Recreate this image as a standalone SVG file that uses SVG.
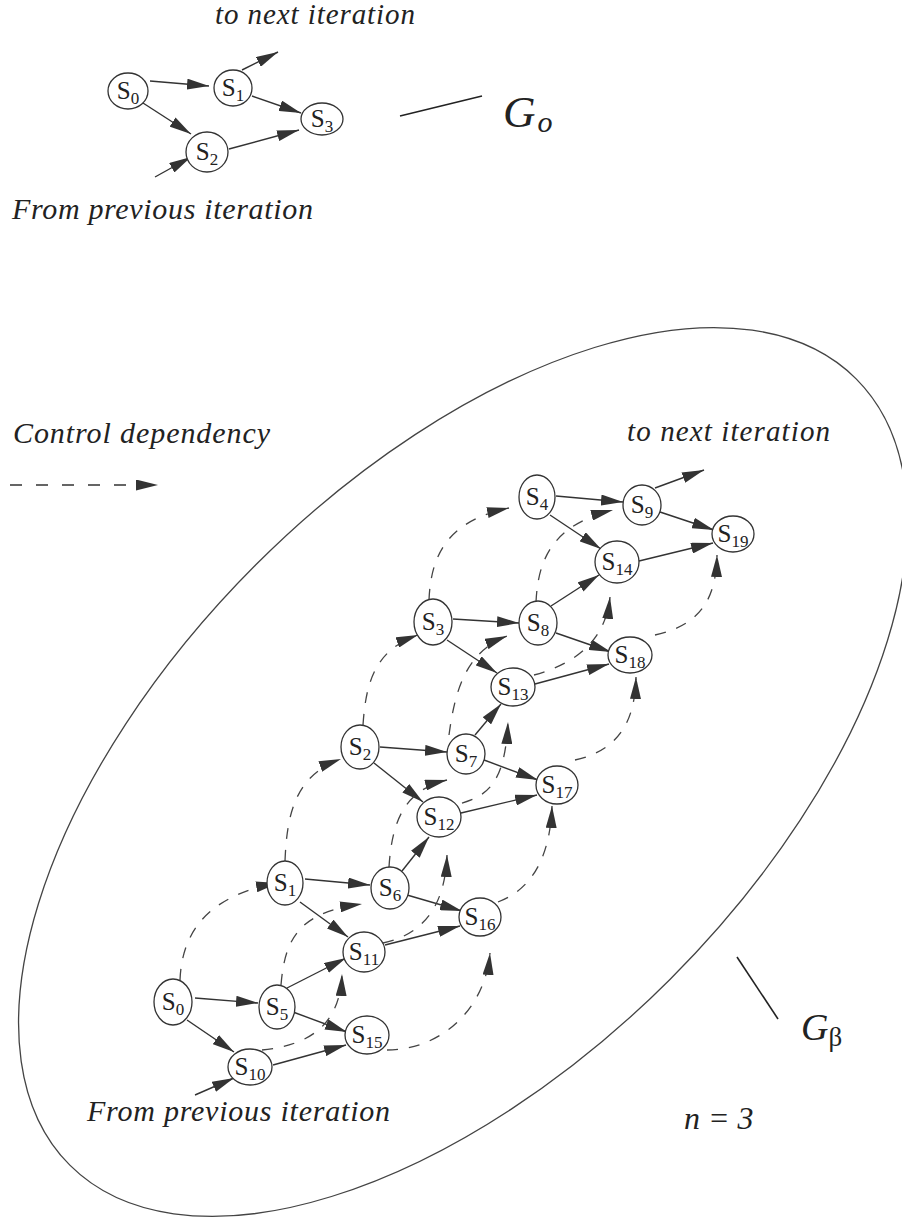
<svg xmlns="http://www.w3.org/2000/svg" width="902" height="1221" viewBox="0 0 902 1221">
  <style>
    .node { fill: #ffffff; stroke: #333333; stroke-width: 1.3; }
    .lbl { font-family: "Liberation Serif", "Times New Roman", serif; font-size: 25px; fill: #222222; text-anchor: middle; }
    .sub { font-size: 17px; }
    .it { font-family: "Liberation Serif", "Times New Roman", serif; font-style: italic; fill: #222222; }
    .edge { fill: none; stroke: #333333; stroke-width: 1.4; marker-end: url(#ah); }
    .ctrl { fill: none; stroke: #444444; stroke-width: 1.3; stroke-dasharray: 11 11; marker-end: url(#ah); }
    .hull { fill: none; stroke: #444444; stroke-width: 1.3; }
    .tick { stroke: #222222; stroke-width: 1.6; }
  </style>
  <defs>
    <marker id="ah" viewBox="0 0 22 11" refX="22" refY="5.5" markerWidth="22" markerHeight="11" markerUnits="userSpaceOnUse" orient="auto">
      <path d="M0,0 L22,5.5 L0,11 Z" fill="#333333"/>
    </marker>
  </defs>
  <rect width="902" height="1221" fill="#ffffff"/>

  <!-- ===== G_o : one loop iteration ===== -->
  <text class="it" x="215" y="24" font-size="29" textLength="200" lengthAdjust="spacing">to next iteration</text>
  <text class="it" x="12" y="219" font-size="30" textLength="301" lengthAdjust="spacing">From previous iteration</text>
  <line class="tick" x1="400" y1="116" x2="482" y2="96"/>
  <text class="it" x="503" y="127" font-size="45">G<tspan font-size="30" dx="2" dy="5">o</tspan></text>

  <g id="go-edges">
    <line class="edge" x1="150" y1="81" x2="209" y2="86"/>
    <line class="edge" x1="143" y1="103" x2="191" y2="134"/>
    <line class="edge" x1="242" y1="70" x2="278" y2="52"/>
    <line class="edge" x1="252" y1="96" x2="301" y2="113"/>
    <line class="edge" x1="229" y1="149" x2="299" y2="130"/>
    <line class="edge" x1="155" y1="177" x2="191" y2="157"/>
  </g>

  <g id="go-s0"><ellipse class="node" cx="128" cy="91" rx="20" ry="18"/><text class="lbl" x="128" y="99">S<tspan class="sub" dy="5">0</tspan></text></g>
  <g id="go-s1"><ellipse class="node" cx="233" cy="88" rx="19" ry="18"/><text class="lbl" x="233" y="96">S<tspan class="sub" dy="5">1</tspan></text></g>
  <g id="go-s2"><ellipse class="node" cx="207" cy="152" rx="21" ry="20"/><text class="lbl" x="207" y="160">S<tspan class="sub" dy="5">2</tspan></text></g>
  <g id="go-s3"><ellipse class="node" cx="322" cy="119" rx="21" ry="16"/><text class="lbl" x="322" y="127">S<tspan class="sub" dy="5">3</tspan></text></g>

  <!-- ===== G_beta : unrolled loop, n = 3 ===== -->
  <ellipse class="hull" cx="463" cy="772" rx="556" ry="293" transform="rotate(-45 463 772)"/>

  <text class="it" x="13" y="443" font-size="30" textLength="257" lengthAdjust="spacing">Control dependency</text>
  <line class="ctrl" x1="10" y1="485" x2="158" y2="485" style="stroke-dasharray: 12 14; stroke: #333333; stroke-width: 1.6"/>
  <text class="it" x="627" y="441" font-size="29" textLength="203" lengthAdjust="spacing">to next iteration</text>
  <text class="it" x="87" y="1121" font-size="30" textLength="303" lengthAdjust="spacing">From previous iteration</text>
  <text class="it" x="684" y="1129" font-size="32">n = 3</text>
  <line class="tick" x1="737" y1="957" x2="778" y2="1019"/>
  <text class="it" x="801" y="1040" font-size="38">G<tspan font-style="normal" font-size="27" dy="6">β</tspan></text>

  <g id="gb-edges">
    <!-- data dependencies -->
    <line class="edge" x1="195" y1="998" x2="258" y2="1003"/>
    <line class="edge" x1="187" y1="1020" x2="234" y2="1052"/>
    <line class="edge" x1="195" y1="1095" x2="234" y2="1078"/>
    <line class="edge" x1="273" y1="1065" x2="346" y2="1045"/>
    <line class="edge" x1="293" y1="1012" x2="347" y2="1032"/>
    <line class="edge" x1="287" y1="988" x2="346" y2="958"/>
    <line class="edge" x1="305" y1="879" x2="370" y2="885"/>
    <line class="edge" x1="300" y1="902" x2="348" y2="937"/>
    <line class="edge" x1="385" y1="945" x2="460" y2="926"/>
    <line class="edge" x1="407" y1="895" x2="462" y2="911"/>
    <line class="edge" x1="402" y1="871" x2="429" y2="837"/>
    <line class="edge" x1="380" y1="747" x2="447" y2="752"/>
    <line class="edge" x1="374" y1="763" x2="423" y2="802"/>
    <line class="edge" x1="461" y1="813" x2="537" y2="795"/>
    <line class="edge" x1="484" y1="760" x2="538" y2="780"/>
    <line class="edge" x1="475" y1="735" x2="501" y2="704"/>
    <line class="edge" x1="453" y1="619" x2="519" y2="623"/>
    <line class="edge" x1="447" y1="640" x2="497" y2="673"/>
    <line class="edge" x1="535" y1="684" x2="609" y2="664"/>
    <line class="edge" x1="556" y1="633" x2="611" y2="652"/>
    <line class="edge" x1="551" y1="606" x2="599" y2="575"/>
    <line class="edge" x1="556" y1="496" x2="623" y2="502"/>
    <line class="edge" x1="550" y1="515" x2="601" y2="549"/>
    <line class="edge" x1="639" y1="561" x2="713" y2="543"/>
    <line class="edge" x1="660" y1="512" x2="714" y2="530"/>
    <line class="edge" x1="655" y1="488" x2="704" y2="470"/>
    <!-- control dependencies -->
    <path class="ctrl" d="M180,980 C182,930 210,895 278,883"/>
    <path class="ctrl" d="M285,861 C287,810 297,775 341,759"/>
    <path class="ctrl" d="M363,725 C366,680 376,650 418,635"/>
    <path class="ctrl" d="M429,600 C431,550 452,520 509,508"/>
    <path class="ctrl" d="M281,985 C285,935 302,912 362,904"/>
    <path class="ctrl" d="M389,867 C392,820 405,790 447,780"/>
    <path class="ctrl" d="M449,735 C455,690 466,652 507,636"/>
    <path class="ctrl" d="M536,602 C538,560 552,525 613,510"/>
    <path class="ctrl" d="M262,1050 C310,1045 340,1025 342,974"/>
    <path class="ctrl" d="M383,943 C420,935 445,910 447,855"/>
    <path class="ctrl" d="M462,803 C490,795 505,780 508,722"/>
    <path class="ctrl" d="M534,675 C570,665 605,645 610,597"/>
    <path class="ctrl" d="M387,1050 C440,1050 485,1010 490,953"/>
    <path class="ctrl" d="M498,902 C530,890 550,860 552,806"/>
    <path class="ctrl" d="M575,760 C620,750 635,720 636,677"/>
    <path class="ctrl" d="M655,635 C700,625 716,600 717,555"/>
  </g>

  <g id="gb-s0"><ellipse class="node" cx="173" cy="1002" rx="19" ry="23"/><text class="lbl" x="173" y="1010">S<tspan class="sub" dy="5">0</tspan></text></g>
  <g id="gb-s5"><ellipse class="node" cx="277" cy="1007" rx="18" ry="22"/><text class="lbl" x="277" y="1015">S<tspan class="sub" dy="5">5</tspan></text></g>
  <g id="gb-s10"><ellipse class="node" cx="250" cy="1067" rx="22" ry="18"/><text class="lbl" x="250" y="1075">S<tspan class="sub" dy="5">10</tspan></text></g>
  <g id="gb-s15"><ellipse class="node" cx="367" cy="1035" rx="22" ry="19"/><text class="lbl" x="367" y="1043">S<tspan class="sub" dy="5">15</tspan></text></g>
  <g id="gb-s1"><ellipse class="node" cx="285" cy="883" rx="18" ry="22"/><text class="lbl" x="285" y="891">S<tspan class="sub" dy="5">1</tspan></text></g>
  <g id="gb-s6"><ellipse class="node" cx="390" cy="888" rx="19" ry="21"/><text class="lbl" x="390" y="896">S<tspan class="sub" dy="5">6</tspan></text></g>
  <g id="gb-s11"><ellipse class="node" cx="364" cy="952" rx="21" ry="20"/><text class="lbl" x="364" y="960">S<tspan class="sub" dy="5">11</tspan></text></g>
  <g id="gb-s16"><ellipse class="node" cx="480" cy="917" rx="21" ry="19"/><text class="lbl" x="480" y="925">S<tspan class="sub" dy="5">16</tspan></text></g>
  <g id="gb-s2"><ellipse class="node" cx="360" cy="747" rx="19" ry="22"/><text class="lbl" x="360" y="755">S<tspan class="sub" dy="5">2</tspan></text></g>
  <g id="gb-s7"><ellipse class="node" cx="466" cy="754" rx="19" ry="20"/><text class="lbl" x="466" y="762">S<tspan class="sub" dy="5">7</tspan></text></g>
  <g id="gb-s12"><ellipse class="node" cx="439" cy="817" rx="22" ry="20"/><text class="lbl" x="439" y="825">S<tspan class="sub" dy="5">12</tspan></text></g>
  <g id="gb-s17"><ellipse class="node" cx="557" cy="785" rx="21" ry="19"/><text class="lbl" x="557" y="793">S<tspan class="sub" dy="5">17</tspan></text></g>
  <g id="gb-s3"><ellipse class="node" cx="433" cy="622" rx="19" ry="23"/><text class="lbl" x="433" y="630">S<tspan class="sub" dy="5">3</tspan></text></g>
  <g id="gb-s8"><ellipse class="node" cx="538" cy="623" rx="19" ry="22"/><text class="lbl" x="538" y="631">S<tspan class="sub" dy="5">8</tspan></text></g>
  <g id="gb-s13"><ellipse class="node" cx="513" cy="687" rx="22" ry="19"/><text class="lbl" x="513" y="695">S<tspan class="sub" dy="5">13</tspan></text></g>
  <g id="gb-s18"><ellipse class="node" cx="630" cy="655" rx="22" ry="18"/><text class="lbl" x="630" y="663">S<tspan class="sub" dy="5">18</tspan></text></g>
  <g id="gb-s4"><ellipse class="node" cx="537" cy="497" rx="18" ry="22"/><text class="lbl" x="537" y="505">S<tspan class="sub" dy="5">4</tspan></text></g>
  <g id="gb-s9"><ellipse class="node" cx="642" cy="505" rx="19" ry="20"/><text class="lbl" x="642" y="513">S<tspan class="sub" dy="5">9</tspan></text></g>
  <g id="gb-s14"><ellipse class="node" cx="617" cy="562" rx="22" ry="21"/><text class="lbl" x="617" y="570">S<tspan class="sub" dy="5">14</tspan></text></g>
  <g id="gb-s19"><ellipse class="node" cx="733" cy="534" rx="21" ry="18"/><text class="lbl" x="733" y="542">S<tspan class="sub" dy="5">19</tspan></text></g>
</svg>
